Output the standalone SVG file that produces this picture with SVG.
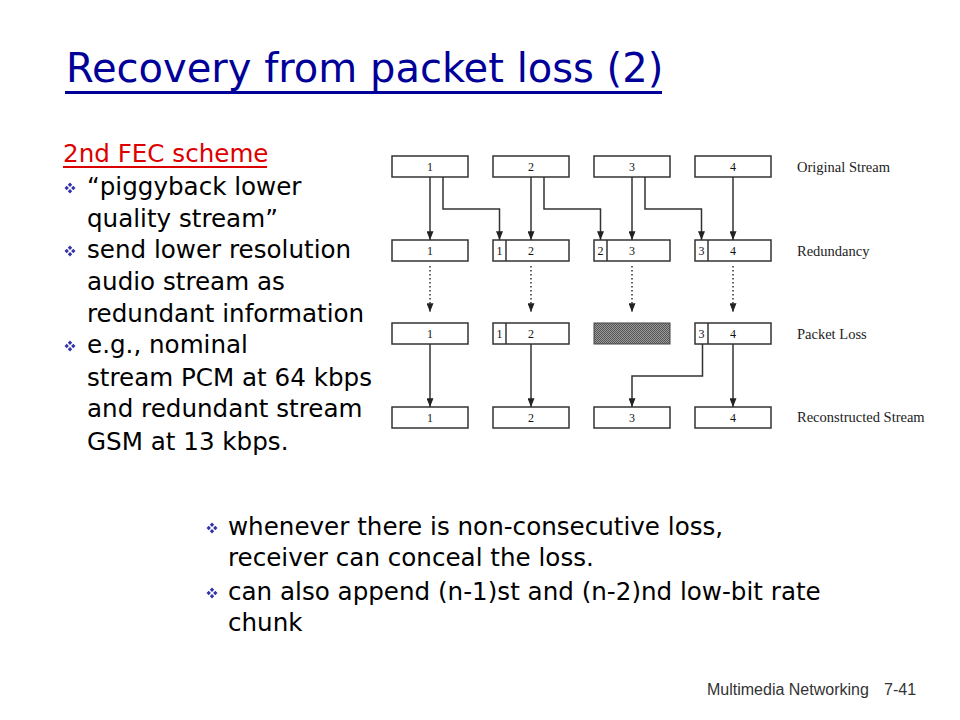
<svg xmlns="http://www.w3.org/2000/svg" width="960" height="720" viewBox="0 0 960 720">
  <style>
    .box{fill:#ffffff;stroke:#333333;stroke-width:1.5}
    .num{font-family:"Liberation Serif","DejaVu Serif",serif;font-size:12px;fill:#111111;text-anchor:middle}
    .lbl{font-family:"Liberation Serif","DejaVu Serif",serif;font-size:14.5px;fill:#222222}
    .body{font-family:"DejaVu Sans","Noto Sans",sans-serif;font-size:24.6px;fill:#000000}
    .conn{fill:none;stroke:#333333;stroke-width:1.5}
    .dot{fill:none;stroke:#333333;stroke-width:1.5;stroke-dasharray:1.5 2.5}
    .bul{fill:#3333aa}
  </style>
  <defs>
    <marker id="ah" viewBox="0 0 10 8" refX="10" refY="4" markerWidth="10" markerHeight="7" markerUnits="userSpaceOnUse" orient="auto">
      <path d="M0,0 L10,4 L0,8 z" fill="#222222"/>
    </marker>
    <pattern id="shade" width="2" height="2" patternUnits="userSpaceOnUse">
      <rect width="2" height="2" fill="#9a9a9a"/>
      <rect width="1" height="1" fill="#555555"/>
      <rect x="1" y="1" width="1" height="1" fill="#555555"/>
    </pattern>
    <g id="bullet">
      <path d="M0,-5.5 L2.2,-3.3 L0,-1.1 L-2.2,-3.3 z"/>
      <path d="M0,1.1 L2.2,3.3 L0,5.5 L-2.2,3.3 z"/>
      <path d="M-5.5,0 L-3.3,-2.2 L-1.1,0 L-3.3,2.2 z"/>
      <path d="M1.1,0 L3.3,-2.2 L5.5,0 L3.3,2.2 z"/>
    </g>
  </defs>

  <!-- Title -->
  <g id="title">
    <text x="66" y="82" font-family="DejaVu Sans, Noto Sans, sans-serif" font-size="40" fill="#000099">Recovery from packet loss (2)</text>
    <rect x="65" y="91" width="597" height="3" fill="#000099"/>
  </g>

  <!-- Left text -->
  <g id="left-text">
    <text x="63" y="162" class="body" style="fill:#dd0000">2nd FEC scheme</text>
    <rect x="63" y="166" width="204" height="2" fill="#dd0000"/>
    <use href="#bullet" x="70" y="188" class="bul"/>
    <text x="87" y="195" class="body">“piggyback lower</text>
    <text x="87" y="227" class="body">quality stream”</text>
    <use href="#bullet" x="70" y="251" class="bul"/>
    <text x="87" y="258" class="body">send lower resolution</text>
    <text x="87" y="290" class="body">audio stream as</text>
    <text x="87" y="322" class="body">redundant information</text>
    <use href="#bullet" x="70" y="346" class="bul"/>
    <text x="87" y="353" class="body">e.g., nominal</text>
    <text x="87" y="386" class="body">stream PCM at 64 kbps</text>
    <text x="87" y="417" class="body">and redundant stream</text>
    <text x="87" y="450" class="body">GSM at 13 kbps.</text>
  </g>

  <!-- Bottom text -->
  <g id="bottom-text">
    <use href="#bullet" x="212" y="528" class="bul"/>
    <text x="228" y="535" class="body">whenever there is non-consecutive loss,</text>
    <text x="228" y="566" class="body">receiver can conceal the loss.</text>
    <use href="#bullet" x="212" y="593" class="bul"/>
    <text x="228" y="600" class="body">can also append (n-1)st and (n-2)nd low-bit rate</text>
    <text x="228" y="631" class="body">chunk</text>
  </g>

  <!-- Row labels -->
  <g id="row-labels">
    <text x="797" y="172" class="lbl">Original Stream</text>
    <text x="797" y="256" class="lbl">Redundancy</text>
    <text x="797" y="339" class="lbl">Packet Loss</text>
    <text x="797" y="422" class="lbl">Reconstructed Stream</text>
  </g>

  <!-- Row 1: Original stream -->
  <g id="orig-1"><rect class="box" x="392" y="156" width="76" height="21"/><text class="num" x="430" y="171">1</text></g>
  <g id="orig-2"><rect class="box" x="493" y="156" width="76" height="21"/><text class="num" x="531" y="171">2</text></g>
  <g id="orig-3"><rect class="box" x="594" y="156" width="76" height="21"/><text class="num" x="632" y="171">3</text></g>
  <g id="orig-4"><rect class="box" x="695" y="156" width="76" height="21"/><text class="num" x="733" y="171">4</text></g>

  <!-- Row 2: Redundancy -->
  <g id="red-1"><rect class="box" x="392" y="240" width="76" height="21"/><text class="num" x="430" y="255">1</text></g>
  <g id="red-2"><rect class="box" x="493" y="240" width="76" height="21"/><line class="conn" x1="506" y1="240" x2="506" y2="261"/><text class="num" x="499.5" y="255">1</text><text class="num" x="531" y="255">2</text></g>
  <g id="red-3"><rect class="box" x="594" y="240" width="76" height="21"/><line class="conn" x1="607" y1="240" x2="607" y2="261"/><text class="num" x="600.5" y="255">2</text><text class="num" x="632" y="255">3</text></g>
  <g id="red-4"><rect class="box" x="695" y="240" width="76" height="21"/><line class="conn" x1="708" y1="240" x2="708" y2="261"/><text class="num" x="701.5" y="255">3</text><text class="num" x="733" y="255">4</text></g>

  <!-- Row 3: Packet loss -->
  <g id="loss-1"><rect class="box" x="392" y="323" width="76" height="21"/><text class="num" x="430" y="338">1</text></g>
  <g id="loss-2"><rect class="box" x="493" y="323" width="76" height="21"/><line class="conn" x1="506" y1="323" x2="506" y2="344"/><text class="num" x="499.5" y="338">1</text><text class="num" x="531" y="338">2</text></g>
  <g id="loss-3"><rect x="594" y="323" width="76" height="21" fill="url(#shade)" stroke="#444444" stroke-width="1"/></g>
  <g id="loss-4"><rect class="box" x="695" y="323" width="76" height="21"/><line class="conn" x1="708" y1="323" x2="708" y2="344"/><text class="num" x="701.5" y="338">3</text><text class="num" x="733" y="338">4</text></g>

  <!-- Row 4: Reconstructed -->
  <g id="rec-1"><rect class="box" x="392" y="407" width="76" height="21"/><text class="num" x="430" y="422">1</text></g>
  <g id="rec-2"><rect class="box" x="493" y="407" width="76" height="21"/><text class="num" x="531" y="422">2</text></g>
  <g id="rec-3"><rect class="box" x="594" y="407" width="76" height="21"/><text class="num" x="632" y="422">3</text></g>
  <g id="rec-4"><rect class="box" x="695" y="407" width="76" height="21"/><text class="num" x="733" y="422">4</text></g>

  <!-- Connectors -->
  <g id="connectors">
    <line class="conn" x1="430" y1="177" x2="430" y2="240" marker-end="url(#ah)"/>
    <line class="conn" x1="531" y1="177" x2="531" y2="240" marker-end="url(#ah)"/>
    <line class="conn" x1="632" y1="177" x2="632" y2="240" marker-end="url(#ah)"/>
    <line class="conn" x1="733" y1="177" x2="733" y2="240" marker-end="url(#ah)"/>
    <polyline class="conn" points="443,177 443,209 499.5,209 499.5,240" marker-end="url(#ah)"/>
    <polyline class="conn" points="544,177 544,209 600.5,209 600.5,240" marker-end="url(#ah)"/>
    <polyline class="conn" points="645,177 645,209 701.5,209 701.5,240" marker-end="url(#ah)"/>

    <line class="dot" x1="430" y1="266" x2="430" y2="312" marker-end="url(#ah)"/>
    <line class="dot" x1="531" y1="266" x2="531" y2="312" marker-end="url(#ah)"/>
    <line class="dot" x1="632" y1="266" x2="632" y2="312" marker-end="url(#ah)"/>
    <line class="dot" x1="733" y1="266" x2="733" y2="312" marker-end="url(#ah)"/>

    <line class="conn" x1="430" y1="344" x2="430" y2="407" marker-end="url(#ah)"/>
    <line class="conn" x1="531" y1="344" x2="531" y2="407" marker-end="url(#ah)"/>
    <line class="conn" x1="733" y1="344" x2="733" y2="407" marker-end="url(#ah)"/>
    <polyline class="conn" points="702.5,344 702.5,376 632,376 632,407" marker-end="url(#ah)"/>
  </g>

  <!-- Footer -->
  <g id="footer">
    <text x="707" y="695" font-family="Liberation Sans, Arial, sans-serif" font-size="16" fill="#333333">Multimedia Networking</text>
    <text x="884" y="695" font-family="Liberation Sans, Arial, sans-serif" font-size="16" fill="#333333">7-41</text>
  </g>
</svg>
